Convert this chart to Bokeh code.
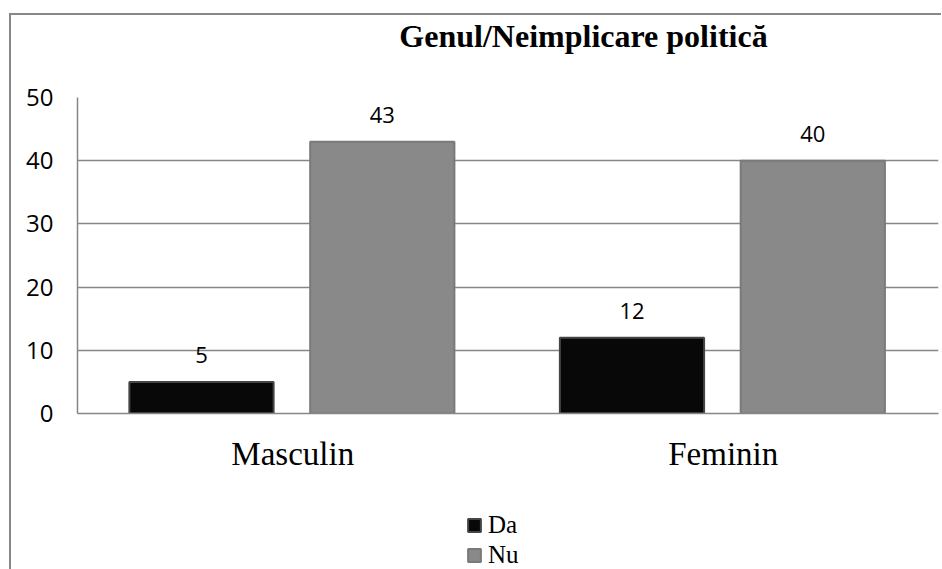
from bokeh.plotting import figure
from bokeh.layouts import column
from bokeh.models import (ColumnDataSource, FactorRange, Range1d, LabelSet, Label, Legend,
                          LegendItem, FixedTicker)
from bokeh.transform import dodge
from bokeh.core.properties import value
from bokeh.embed import file_html
from bokeh.resources import INLINE

categories = ["Masculin", "Feminin"]
series_names = ["Da", "Nu"]
da_values = [5, 12]
nu_values = [43, 40]
y_ticks = [0, 10, 20, 30, 40, 50]
title_text = "Genul/Neimplicare politică"

GRID = "#868686"
SERIF = "Liberation Serif"
SANS = "Open Sans"
DA_FILL, DA_LINE = "#080808", "#454545"
NU_FILL, NU_LINE = "#898989", "#7a7a7a"
W = 930
FRAME_W = 861  # frames of the stacked figures are aligned with the chart frame


def blank(h):
    f = figure(width=W, height=h, x_range=Range1d(0, FRAME_W), y_range=Range1d(0, h),
               x_axis_location=None, y_axis_location=None, title=None,
               output_backend="svg", toolbar_location=None,
               min_border_left=0, min_border_right=0, min_border_top=0, min_border_bottom=0)
    f.xgrid.visible = False
    f.ygrid.visible = False
    f.outline_line_color = None
    return f


src = ColumnDataSource(data=dict(
    cat=categories,
    da=da_values,
    nu=nu_values,
    da_txt=[str(v) for v in da_values],
    nu_txt=[str(v) for v in nu_values],
))

# ---- title strip
hf = blank(60)
hf.add_layout(Label(x=506, y=40, text=title_text, text_align="center", text_baseline="alphabetic",
                    text_font=SERIF, text_font_style="bold", text_font_size="32px",
                    text_color="black"))

# ---- main chart
p = figure(
    x_range=FactorRange(*categories, range_padding=0),
    y_range=Range1d(0, 50),
    width=W, height=430, title=None,
    output_backend="svg", toolbar_location=None,
    min_border_left=66, min_border_right=3, min_border_top=22, min_border_bottom=92,
)
p.outline_line_color = None

p.vbar(x=dodge("cat", -0.212, range=p.x_range), top="da", width=0.335, source=src,
       fill_color=DA_FILL, line_color=DA_LINE, line_width=2)
p.vbar(x=dodge("cat", 0.208, range=p.x_range), top="nu", width=0.335, source=src,
       fill_color=NU_FILL, line_color=NU_LINE, line_width=2)

for col, off in (("da", -0.212), ("nu", 0.208)):
    p.add_layout(LabelSet(x=dodge("cat", off, range=p.x_range), y=col, text=col + "_txt",
                          source=src, text_align="center", text_baseline="alphabetic",
                          y_offset=19, text_font=value(SANS), text_font_size=value("22px"),
                          text_color="black"))

p.xgrid.visible = False
p.ygrid.grid_line_color = GRID
p.ygrid.grid_line_width = 1.5
p.yaxis.ticker = FixedTicker(ticks=y_ticks)

for ax in (p.xaxis, p.yaxis):
    ax.axis_line_color = GRID
    ax.axis_line_width = 1.5
    ax.major_tick_line_color = None
    ax.minor_tick_line_color = None
    ax.major_tick_out = 0
    ax.major_tick_in = 0
    ax.major_label_text_color = "black"

p.yaxis.major_label_text_font = SANS
p.yaxis.major_label_text_font_size = "24px"
p.yaxis.major_label_standoff = 24
p.xaxis.major_label_text_font = SERIF
p.xaxis.major_label_text_font_size = "33px"
p.xaxis.major_label_standoff = 22

# ---- legend strip
lf = blank(64)
l_da = lf.vbar(x="da", top="da", width=1, source=src, visible=False,
               fill_color=DA_FILL, line_color=DA_LINE, line_width=2)
l_nu = lf.vbar(x="nu", top="nu", width=1, source=src, visible=False,
               fill_color=NU_FILL, line_color=NU_LINE, line_width=2)
legend = Legend(items=[LegendItem(label=series_names[0], renderers=[l_da]),
                       LegendItem(label=series_names[1], renderers=[l_nu])],
                location=(389, 0), orientation="vertical",
                padding=0, margin=0, spacing=2, border_line_color=None, background_fill_alpha=0,
                inactive_fill_alpha=0,
                glyph_width=16, glyph_height=16, label_standoff=6,
                label_text_font=SERIF, label_text_font_size="25px", label_text_color="black",
                label_text_line_height=0.9)
lf.add_layout(legend, "center")

layout = column(hf, p, lf, spacing=0)
layout.styles = {"margin-left": "9px", "margin-top": "13px",
                 "border-top": "2px solid #888888", "border-left": "2px solid #888888"}

open("out.html", "w").write(file_html(layout, INLINE))
